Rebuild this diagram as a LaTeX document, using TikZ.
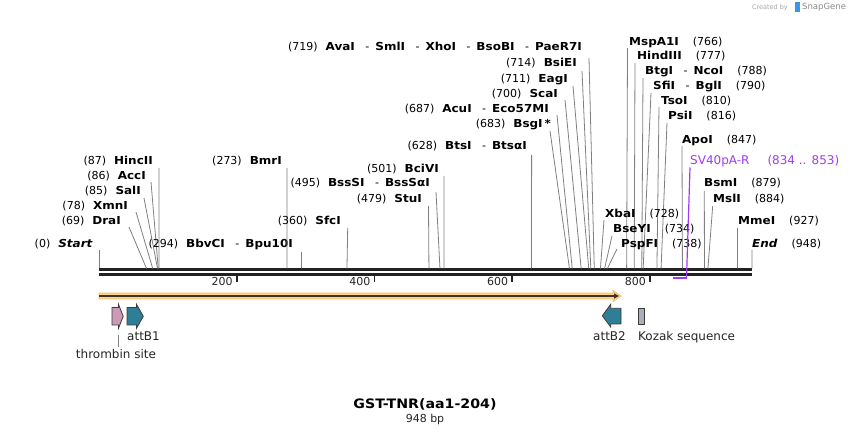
\documentclass[tikz,border=0pt]{standalone}
\usepackage{fontspec}
\setmainfont{DejaVu Sans}[BoldFeatures={FakeStretch=1.09},BoldItalicFeatures={FakeStretch=1.09}]
\usetikzlibrary{arrows.meta}
\definecolor{sitegray}{RGB}{128,128,128}
\definecolor{bbone}{RGB}{34,34,34}
\definecolor{primerpurple}{RGB}{160,60,240}
\definecolor{orfill}{RGB}{252,212,140}
\definecolor{ordraw}{RGB}{246,192,105}
\definecolor{orline}{RGB}{60,52,44}
\definecolor{tealf}{RGB}{46,126,152}
\definecolor{pinkf}{RGB}{204,153,183}
\definecolor{kozakf}{RGB}{170,174,182}
\definecolor{featedge}{RGB}{60,60,60}
\definecolor{sgblue}{RGB}{60,150,230}
\newcommand\lgapx{\hspace{8pt}}
\newcommand\rgapx{\hspace{14pt}}
\newcommand\seprx{\hspace{10.5pt}-\hspace{6pt}}
\newcommand\siteL[6]{%
  \node[lbl,anchor=mid east] (n#6) at (#1,#2) {#3};
  \coordinate (t#6) at (#4,#5);
  \coordinate (s#6) at ({99+#6*0.688819},268.5);
  \draw[siteline] (t#6) -- (s#6);}
\newcommand\siteR[6]{%
  \node[lbl,anchor=mid west] (n#6) at (#1,#2) {#3};
  \coordinate (t#6) at (#4,#5);
  \coordinate (s#6) at ({99+#6*0.688819},268.5);
  \draw[siteline] (t#6) -- (s#6);}
\tikzset{
  lbl/.style={inner sep=0pt,font=\fontsize{11}{13}\selectfont,text=black},
  siteline/.style={draw=sitegray,line width=0.8pt},
  featlbl/.style={inner sep=0pt,font=\fontsize{12}{14}\selectfont,text=black!85},
  featbox/.style={draw=featedge,line width=0.8pt},
  ticklbl/.style={inner sep=0pt,font=\fontsize{11}{13}\selectfont,text=black!85,anchor=mid east},
}
\begin{document}
\begin{tikzpicture}[x=1pt,y=-1pt]
\useasboundingbox (0,0) rectangle (852,435);
\fill[white] (0,0) rectangle (852,435);

% credit
\node[inner sep=0pt,anchor=mid east,font=\fontsize{6.5}{7}\selectfont,text=black!35] (cred) at (788,7) {Created by};
\fill[sgblue] (795,2.5) rectangle (799.5,12);
\node[inner sep=0pt,anchor=mid west,font=\fontsize{8.5}{9}\selectfont,text=black!45] (sg) at (802,7) {SnapGene};

% backbone
\coordinate (bbL1) at (99,270);
\coordinate (bbR1) at (752,270);
\coordinate (bbL2) at (99,274.8);
\coordinate (bbR2) at (752,274.8);
\draw[bbone,line width=3pt] (bbL1) -- (bbR1);
\draw[bbone,line width=2.6pt] (bbL2) -- (bbR2);

% ticks
\foreach \v/\xx in {200/236.8,400/374.5,600/512.3,800/650.1}{
  \draw[bbone,line width=1.8pt] (\xx,275) -- (\xx,282.5);
  \node[ticklbl] (tick\v) at (\xx-4,282.5) {\v};
}

% left-side sites
\siteL{153}{162}{(87)\lgapx\textbf{HincII}}{159}{168}{87}
\siteL{146}{177}{(86)\lgapx\textbf{AccI}}{151}{182}{86}
\siteL{141}{192}{(85)\lgapx\textbf{SalI}}{144}{198}{85}
\siteL{128}{207}{(78)\lgapx\textbf{XmnI}}{136}{212}{78}
\siteL{121}{222}{(69)\lgapx\textbf{DraI}}{129}{227}{69}
\siteL{93}{245}{(0)\lgapx\textbf{\textit{Start}}}{99}{250}{0}
\siteL{293}{245}{(294)\lgapx\textbf{BbvCI}\seprx\textbf{Bpu10I}}{301.5}{252}{294}
\siteL{282}{162}{(273)\lgapx\textbf{BmrI}}{287}{168}{273}
\siteL{341}{222}{(360)\lgapx\textbf{SfcI}}{347.7}{228}{360}
\siteL{422}{200}{(479)\lgapx\textbf{StuI}}{428.5}{206}{479}
\siteL{430}{184}{(495)\lgapx\textbf{BssSI}\seprx\textbf{BssSαI}}{436}{192}{495}
\siteL{439}{170}{(501)\lgapx\textbf{BciVI}}{444}{176}{501}
\siteL{527}{147}{(628)\lgapx\textbf{BtsI}\seprx\textbf{BtsαI}}{531.6}{155}{628}
\siteL{551}{125}{(683)\lgapx\textbf{BsgI\,*}}{550}{131}{683}
\siteL{549}{110}{(687)\lgapx\textbf{AcuI}\seprx\textbf{Eco57MI}}{557}{115}{687}
\siteL{558}{95}{(700)\lgapx\textbf{ScaI}}{565}{100}{700}
\siteL{568}{80}{(711)\lgapx\textbf{EagI}}{573}{86}{711}
\siteL{577}{64}{(714)\lgapx\textbf{BsiEI}}{582}{71}{714}
\siteL{582}{48}{(719)\lgapx\textbf{AvaI}\seprx\textbf{SmlI}\seprx\textbf{XhoI}\seprx\textbf{BsoBI}\seprx\textbf{PaeR7I}}{589}{58}{719}

% right-side sites
\siteR{629}{43}{\textbf{MspA1I}\rgapx(766)}{627.5}{48}{766}
\siteR{637}{57}{\textbf{HindIII}\rgapx(777)}{635}{63}{777}
\siteR{645}{72}{\textbf{BtgI}\seprx\textbf{NcoI}\rgapx(788)}{643}{78}{788}
\siteR{653}{87}{\textbf{SfiI}\seprx\textbf{BglI}\rgapx(790)}{651}{93}{790}
\siteR{661}{102}{\textbf{TsoI}\rgapx(810)}{659}{107}{810}
\siteR{668}{117}{\textbf{PsiI}\rgapx(816)}{667}{123}{816}
\siteR{682}{141}{\textbf{ApoI}\rgapx(847)}{682}{146}{847}
\siteR{704}{184}{\textbf{BsmI}\rgapx(879)}{704.3}{191}{879}
\siteR{713}{200}{\textbf{MslI}\rgapx(884)}{712.7}{206}{884}
\siteR{605}{215}{\textbf{XbaI}\rgapx(728)}{604}{220}{728}
\siteR{613}{230}{\textbf{BseYI}\rgapx(734)}{612}{236}{734}
\siteR{621}{245}{\textbf{PspFI}\rgapx(738)}{617}{249}{738}
\siteR{738}{222}{\textbf{MmeI}\rgapx(927)}{737.5}{228}{927}
\siteR{752}{245}{\textbf{\textit{End}}\rgapx(948)}{752}{250}{948}

% primer SV40pA-R
\node[inner sep=0pt,anchor=mid west,font=\fontsize{12}{14}\selectfont,text=primerpurple] (sv) at (690,162) {SV40pA-R\hspace{18pt}(834 .. 853)};
\coordinate (svtop) at (690,167.5);
\coordinate (svbot) at (686.5,278.5);
\coordinate (svleft) at (673,278.5);
\draw[primerpurple,line width=1.2pt] (svtop) -- (svbot);
\draw[primerpurple,line width=2pt] (svleft) -- (svbot);

% ORF arrow
\fill[orfill,draw=ordraw,line width=0.8pt] (99,293) -- (613,293) -- (613,290.5) -- (621,296) -- (613,301.5) -- (613,299) -- (99,299) -- cycle;
\coordinate (orfS) at (99,296);
\coordinate (orfE) at (619,296);
\draw[orline,line width=1.6pt,-{Triangle[length=5pt,width=5pt]}] (orfS) -- (orfE);

% features
\filldraw[featbox,fill=pinkf] (112,307.5) -- (118.5,307.5) -- (118.5,304.3) -- (123.2,316.3) -- (118.5,328.3) -- (118.5,325) -- (112,325) -- cycle;
\filldraw[featbox,fill=tealf] (127,307.5) -- (136.5,307.5) -- (136.5,304.3) -- (143.3,316.3) -- (136.5,328.3) -- (136.5,325) -- (127,325) -- cycle;
\filldraw[featbox,fill=tealf] (621,308.3) -- (610.7,308.3) -- (610.7,304.3) -- (602.3,315.8) -- (610.7,327) -- (610.7,324) -- (621,324) -- cycle;
\filldraw[featbox,fill=kozakf] (638,308) rectangle (644,324);

\coordinate (thrA) at (118.7,335);
\coordinate (thrB) at (118.7,347);
\draw[sitegray,line width=0.8pt] (thrA) -- (thrB);
\node[featlbl] (thr) at (116,354) {thrombin site};
\node[featlbl,anchor=mid west] (ab1) at (127,338) {attB1};
\node[featlbl,anchor=mid west] (ab2) at (593,338) {attB2};
\node[featlbl,anchor=mid west] (koz) at (638,338) {Kozak sequence};

% title
\node[inner sep=0pt,font=\fontsize{13}{15}\bfseries\selectfont] (title) at (425,404) {GST-TNR(aa1-204)};
\node[inner sep=0pt,font=\fontsize{11}{13}\selectfont,text=black!85] (len) at (425,419) {948 bp};
\end{tikzpicture}
\end{document}
